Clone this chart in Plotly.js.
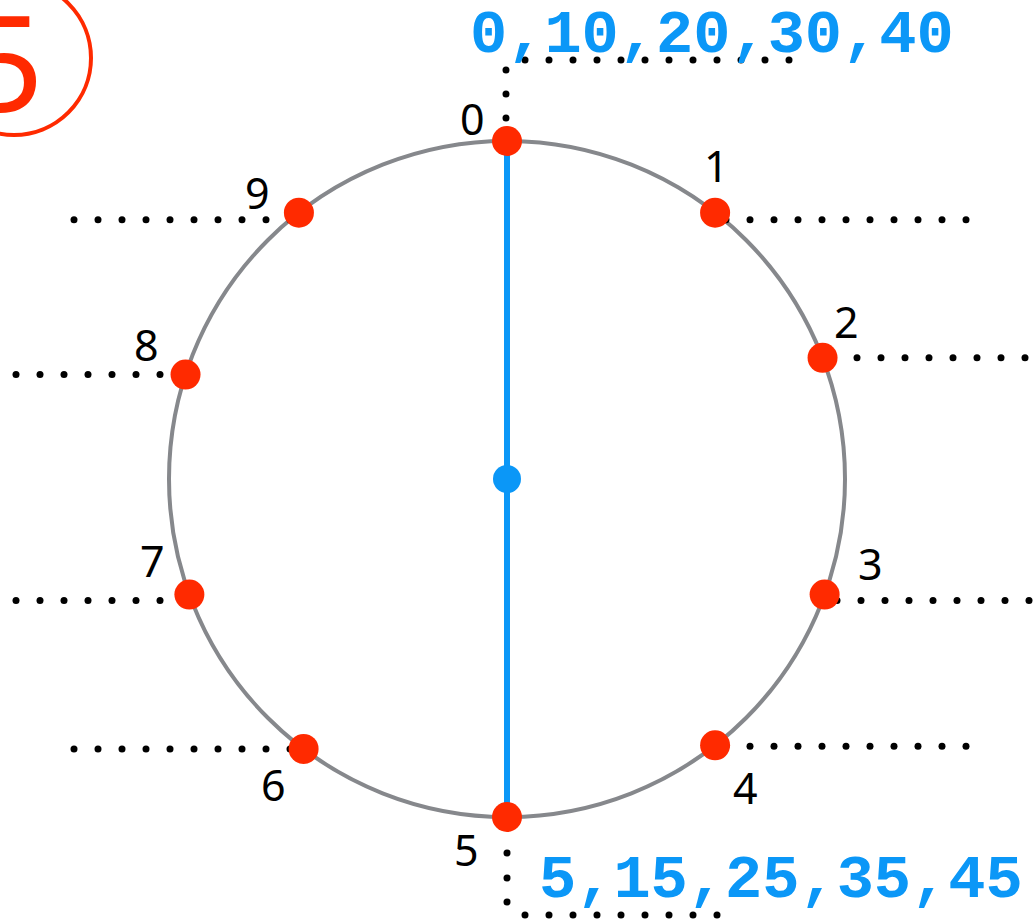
<!DOCTYPE html>
<html>
<head>
<meta charset="utf-8">
<script src="https://cdn.plot.ly/plotly-3.0.1.min.js"></script>
<style>html,body{margin:0;padding:0;background:#fff;}#chart{width:1036px;height:922px;}</style>
</head>
<body>
<div id="chart"></div>
<script>
// ---- data ----
const digits = ['0','1','2','3','4','5','6','7','8','9'];
const anglesDeg = [0, 38, 69, 110, 142, 180, 217, 250, 288, 322]; // clockwise from top
const topLabel = '0,10,20,30,40';
const bottomLabel = '5,15,25,35,45';
const badgeLabel = '5';

// ---- layout helpers (pixel <-> data, unit circle) ----
const W = 1036, H = 922, CX = 507, CY = 479, R = 338;
const X = p => (p - CX) / R;
const Y = p => (CY - p) / R;
const rad = anglesDeg.map(a => a * Math.PI / 180);
const ptX = rad.map(a => Math.sin(a));
const ptY = rad.map(a => Math.cos(a));

const RED = '#ff2a00', BLUE = '#0b97f7', GREY = '#86888c';

// label offsets from points, in pixels
const labelOff = [[-35,-23],[1,-47],[24,-36],[46,-31],[30,42],[-41,32],[-30,36],[-37,-34],[-39,-30],[-41,-20]];

// dotted guides: [pointIndex, startPx, endPx, dyPx]
const guides = [[1,726,966,7],[2,833,1040,0],[3,837,1040,6],[4,726,966,1],
                [6,290,74,0],[7,160,16,6],[8,160,16,0],[9,290,74,7]];
const dotX = [], dotY = [];
const STEP = 24;
guides.forEach(([i, s, e, dy]) => {
  const py = CY - ptY[i] * R + dy;
  const dir = e > s ? 1 : -1;
  for (let p = s; dir > 0 ? p <= e : p >= e; p += dir * STEP) { dotX.push(X(p)); dotY.push(Y(py)); }
});
// bracket above point 0
const topPx = CX + ptX[0] * R - 1;
[118, 94, 70].forEach(py => { dotX.push(X(topPx)); dotY.push(Y(py)); });
for (let p = 525; p <= 790; p += STEP) { dotX.push(X(p)); dotY.push(Y(60)); }
// bracket below point 5
const botPx = CX + ptX[5] * R;
[853, 878, 902].forEach(py => { dotX.push(X(botPx)); dotY.push(Y(py)); });
for (let p = 525; p <= 718; p += STEP) { dotX.push(X(p)); dotY.push(Y(915)); }

const traces = [
  { x: dotX, y: dotY, mode: 'markers', type: 'scatter', hoverinfo: 'skip',
    marker: { size: 7, color: '#000' } },
  { x: [ptX[0], ptX[5]], y: [ptY[0], ptY[5]], mode: 'lines', type: 'scatter', hoverinfo: 'skip',
    line: { color: BLUE, width: 6 } },
  { x: [0], y: [0], mode: 'markers', type: 'scatter', hoverinfo: 'skip',
    marker: { size: 28, color: BLUE } },
  { x: ptX, y: ptY, text: digits, mode: 'markers', type: 'scatter',
    marker: { size: 30, color: RED } }
];

const annotations = digits.map((d, i) => ({
  x: X(CX + ptX[i] * R + labelOff[i][0]),
  y: Y(CY - ptY[i] * R + labelOff[i][1]),
  text: d, showarrow: false, xanchor: 'center', yanchor: 'middle',
  font: { family: 'Noto Sans, sans-serif', size: 43, color: '#000' }
}));
annotations.push({ x: X(712), y: Y(35), text: '<b>' + topLabel + '</b>', showarrow: false,
  xanchor: 'center', yanchor: 'middle', font: { family: 'Liberation Mono, monospace', size: 62, color: BLUE } });
annotations.push({ x: X(781), y: Y(880), text: '<b>' + bottomLabel + '</b>', showarrow: false,
  xanchor: 'center', yanchor: 'middle', font: { family: 'Liberation Mono, monospace', size: 62, color: BLUE } });
annotations.push({ x: X(5), y: Y(60), text: badgeLabel, showarrow: false,
  xanchor: 'center', yanchor: 'middle', font: { family: 'Noto Sans, sans-serif', size: 134, color: RED } });

const layout = {
  width: W, height: H, margin: { l: 0, r: 0, t: 0, b: 0 },
  paper_bgcolor: '#fff', plot_bgcolor: '#fff', showlegend: false,
  xaxis: { range: [X(0), X(W)], visible: false, showgrid: false, zeroline: false, fixedrange: true },
  yaxis: { range: [Y(H), Y(0)], visible: false, showgrid: false, zeroline: false, fixedrange: true },
  shapes: [
    { type: 'circle', xref: 'x', yref: 'y', x0: -1, x1: 1, y0: -1, y1: 1,
      line: { color: GREY, width: 4 }, layer: 'below' },
    { type: 'circle', xref: 'x', yref: 'y', x0: X(14 - 77), x1: X(14 + 77), y0: Y(58 + 77), y1: Y(58 - 77),
      line: { color: RED, width: 4 }, layer: 'below' }
  ],
  annotations: annotations,
  hovermode: false
};

Plotly.newPlot('chart', traces, layout, { displayModeBar: false, staticPlot: true });
</script>
</body>
</html>
